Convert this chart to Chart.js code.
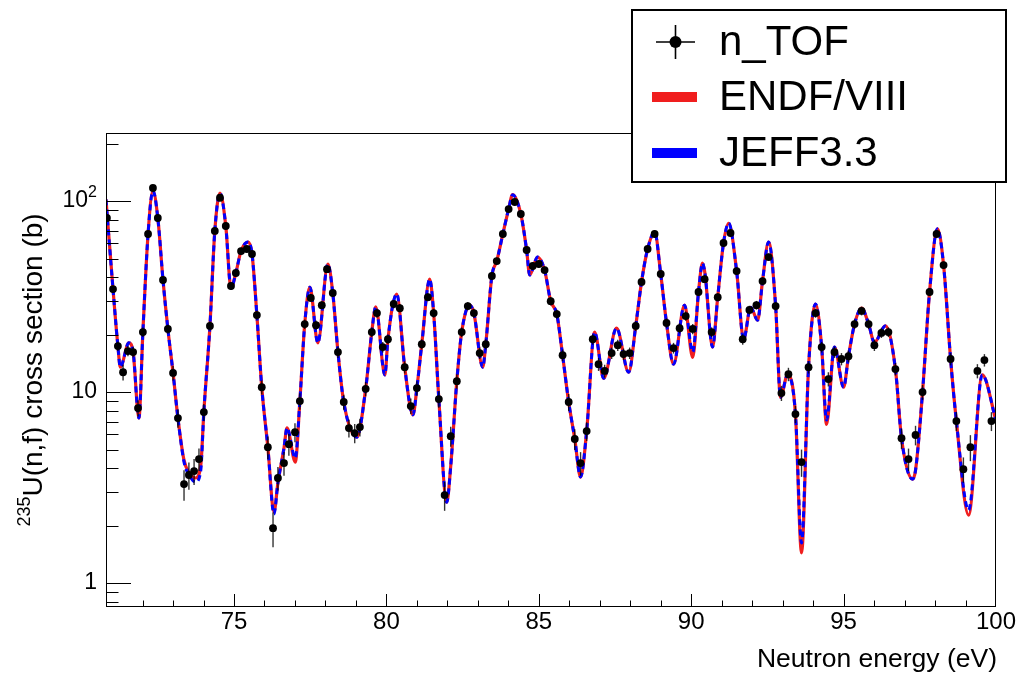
<!DOCTYPE html>
<html><head><meta charset="utf-8">
<script src="https://cdn.jsdelivr.net/npm/chart.js@4.4.0/dist/chart.umd.min.js"></script>
<style>html,body{margin:0;padding:0;background:#fff;overflow:hidden}</style>
</head><body>
<canvas id="c" width="1023" height="676"></canvas>
<script>
// ---- n_TOF measured points ----
const energies = [70.83,71.03,71.19,71.36,71.52,71.69,71.85,72.01,72.18,72.34,72.50,72.67,72.83,73.00,73.16,73.36,73.52,73.69,73.85,74.01,
74.21,74.37,74.54,74.73,74.90,75.06,75.23,75.42,75.59,75.75,75.91,76.11,76.28,76.44,76.64,76.80,77.00,77.16,77.32,77.52,
77.69,77.88,78.05,78.24,78.41,78.60,78.77,78.96,79.13,79.32,79.52,79.69,79.88,80.05,80.24,80.44,80.60,80.80,81.00,81.16,
81.36,81.55,81.72,81.91,82.11,82.31,82.47,82.67,82.87,83.06,83.26,83.46,83.62,83.82,84.01,84.21,84.41,84.60,84.80,85.00,
85.19,85.39,85.59,85.78,85.98,86.18,86.37,86.57,86.77,86.96,87.16,87.39,87.59,87.78,87.98,88.18,88.37,88.57,88.80,89.00,
89.19,89.42,89.62,89.82,90.05,90.24,90.44,90.67,90.87,91.06,91.29,91.49,91.69,91.91,92.14,92.34,92.54,92.77,92.96,93.19,
93.42,93.62,93.85,94.08,94.28,94.50,94.70,94.93,95.16,95.36,95.59,95.82,96.01,96.24,96.47,96.70,96.90,97.13,97.36,97.59,
97.82,98.05,98.28,98.51,98.70,98.93,99.16,99.39,99.62,99.85];
const xsMeasured = [81.5,34.6,17.4,12.7,16.4,16.2,8.25,20.6,67.2,117,81.5,38.6,21.4,12.6,7.31,3.30,3.68,3.86,4.46,7.86,
22.2,69.7,104,74.0,35.9,42.0,54.7,56.1,52.8,25.3,10.6,5.15,1.94,3.55,4.25,5.34,6.17,8.97,22.7,31.1,
22.4,28.5,44.0,33.0,16.2,8.87,6.48,6.10,6.56,10.4,20.6,25.9,17.2,18.9,28.9,27.5,13.5,8.45,10.5,17.8,
31.4,25.9,9.19,2.89,5.88,11.4,20.6,28.2,25.9,16.0,17.8,40.5,48.5,67.2,90.8,98.8,85.5,55.4,45.7,46.8,
43.5,29.9,25.6,15.6,8.87,5.68,4.25,6.25,18.9,14.0,12.9,16.0,17.6,15.8,16.0,22.2,37.7,56.1,67.2,41.5,
23.0,17.0,21.6,25.0,21.4,33.4,39.0,20.6,31.4,60.3,68.0,43.0,18.9,26.9,28.5,38.1,50.9,28.2,9.88,12.4,
7.67,4.30,13.5,25.9,17.2,11.7,16.2,14.9,15.4,22.7,26.6,22.7,17.6,20.4,20.6,13.2,5.74,4.46,5.96,10.0,
33.4,67.2,46.2,14.9,7.05,3.95,5.15,12.9,14.7,7.05];
const xsError = [3,1.5,1,1.2,1,1,0.8,1.2,3,4,3,1.8,1.2,1.1,0.8,0.6,0.6,0.6,0.6,0.8,
1.2,3,4,3,1.6,1.8,2.2,2.2,2.2,1.4,0.9,0.7,0.4,0.5,0.6,0.7,0.7,0.9,1.3,1.5,
1.3,1.4,1.9,1.5,1.1,0.8,0.7,0.7,0.7,0.9,1.2,1.4,1.1,1.1,1.4,1.4,1.0,0.8,0.9,1.1,
1.5,1.4,0.9,0.5,0.7,1.0,1.2,1.4,1.4,1.1,1.1,1.8,2.0,2.6,3.3,3.6,3.2,2.3,2.0,2.0,
1.9,1.5,1.4,1.1,0.9,0.7,0.6,0.7,1.2,1.1,1.0,1.1,1.2,1.1,1.1,1.3,1.8,2.4,2.7,1.9,
1.3,1.1,1.3,1.4,1.3,1.6,1.8,1.2,1.5,2.5,2.7,1.9,1.2,1.4,1.5,1.8,2.2,1.5,0.9,1.0,
0.8,0.7,1.0,1.4,1.1,1.0,1.1,1.1,1.1,1.3,1.4,1.3,1.2,1.2,1.2,1.0,0.7,0.6,0.7,0.9,
1.6,2.7,2.0,1.1,0.8,0.6,0.8,1.1,1.1,0.8];

// ---- evaluated curves ----
const curveEnergies = [70.80,70.83,71.03,71.19,71.27,71.55,71.69,71.88,72.01,72.18,72.34,72.50,72.67,72.83,73.00,73.16,73.36,73.52,73.74,73.91,
74.01,74.21,74.37,74.54,74.73,74.90,75.06,75.23,75.46,75.59,75.75,75.91,76.11,76.31,76.44,76.64,76.74,77.01,77.16,77.32,
77.49,77.75,78.08,78.24,78.41,78.60,79.03,79.32,79.52,79.65,79.95,80.05,80.34,80.60,80.87,81.00,81.16,81.42,81.55,81.72,
81.98,82.11,82.31,82.47,82.73,82.87,83.16,83.26,83.46,83.62,83.82,84.01,84.14,84.41,84.60,84.70,84.96,85.19,85.39,85.59,
85.78,85.98,86.18,86.37,86.57,86.83,87.13,87.55,87.95,88.18,88.37,88.57,88.80,89.00,89.19,89.42,89.78,90.05,90.24,90.37,
90.45,90.70,90.87,91.06,91.23,91.49,91.72,91.95,92.18,92.34,92.54,92.77,92.93,93.16,93.42,93.62,93.85,94.08,94.28,94.44,
94.70,95.00,95.16,95.36,95.59,95.82,96.01,96.37,96.70,96.90,97.26,97.36,97.59,97.82,98.08,98.28,98.51,98.70,99.10,99.55,
100.0];
const endfValues = [102,88,34.6,17.4,13.5,18.1,16.2,7.31,20.6,67.2,113,81.5,38.6,21.4,12.6,7.31,4.4,3.8,3.55,4.15,
7.86,22.2,69.7,110,74,35,42,54.7,61,53,25.3,10.6,5.15,2.35,3.34,5.1,6.49,4.30,8.97,22.7,
35.4,18.1,46.8,33.0,16.2,8.87,5.81,10.4,20.6,27.9,12.3,18.9,32.6,13.5,7.6,10.5,17.8,39.0,25.9,9.19,
2.65,4.1,11.4,20.6,28.5,25.9,13.5,17.8,40.5,48.5,67.2,90.8,108,85.5,55.4,41,50.9,43.5,29.9,25.6,
15.6,8.87,5.68,3.59,6.25,20.6,11.8,21.6,12.7,22.2,37.7,56.1,68.8,41.5,23.0,14.0,28.5,15.2,33.4,47.3,
42,17.2,31.4,60.3,76.5,43,18.9,27.8,23.8,38.1,61,28.2,9.4,12.3,7.67,1.44,13.5,28.9,17.2,6.78,
17.2,10.6,15.4,22.7,27.5,22.7,18.2,22.2,13.2,5.74,3.5,3.9,10.0,33.4,71.5,46.2,14.9,7.05,2.27,12.3,
7.1];
const jeffValues = [102,88,34.6,17.4,13.5,18.1,16.2,7.31,20.6,67.2,113,81.5,38.6,21.4,12.6,7.31,4.3,3.7,3.38,3.9,
7.86,22.2,69.7,110,74,35,42,54.7,61,53,25.3,10.6,5.15,2.30,3.34,5.1,6.49,4.51,8.97,22.7,
35.4,18.1,46.8,33.0,16.2,8.87,5.81,10.4,20.6,27.9,12.3,18.9,32.6,13.5,7.6,10.5,17.8,39.0,25.9,9.19,
2.65,4.1,11.4,20.6,28.5,25.9,13.5,17.8,40.5,48.5,67.2,90.8,108,85.5,55.4,41,50.9,43.5,29.9,25.6,
15.6,8.87,5.68,3.59,6.25,20.6,11.8,21.6,12.7,22.2,37.7,56.1,68.8,41.5,23.0,14.0,28.5,16.2,33.4,47.3,
42,17.2,31.4,60.3,76.5,43,18.9,27.8,23.8,38.1,61,28.2,9.4,12.3,7.67,1.62,13.5,28.9,17.2,7.14,
17.2,10.6,15.4,22.7,27.5,22.7,18.2,22.2,13.2,5.74,3.5,3.9,10.0,33.4,71.5,46.2,14.9,7.05,2.41,12.3,
7.1];

// ---- axes / labels ----
const xTickValues = [75,80,85,90,95,100];
const xTickLabels = ['75','80','85','90','95','100'];
const yTickValues = [1,10,100];
const yTickLabels = ['1','10','10'];
const yTickExponents = ['','','2'];
const xTitle = 'Neutron energy (eV)';
const yTitleSup = '235';
const yTitle = 'U(n,f) cross section (b)';
const legendLabels = ['n_TOF','ENDF/VIII','JEFF3.3'];

const RED = '#f01e1e', BLUE = '#0000ff';
const FONT = '"Liberation Sans", Arial, Helvetica, sans-serif';

const rootStyle = {
  id: 'rootStyle',
  beforeDatasetDraw(chart, args) {
    const ds = chart.data.datasets[args.index];
    if (ds.label !== 'n_TOF') return;
    const ctx = chart.ctx, xs = chart.scales.x, ys = chart.scales.y, a = chart.chartArea;
    ctx.save();
    ctx.beginPath(); ctx.rect(a.left, a.top, a.right - a.left, a.bottom - a.top); ctx.clip();
    ctx.strokeStyle = 'rgba(0,0,0,0.8)'; ctx.lineWidth = 1.4;
    for (let i = 0; i < energies.length; i++) {
      const px = xs.getPixelForValue(energies[i]);
      const y1 = ys.getPixelForValue(xsMeasured[i] + xsError[i]);
      const y2 = ys.getPixelForValue(Math.max(xsMeasured[i] - xsError[i], 0.01));
      ctx.beginPath(); ctx.moveTo(px, y1); ctx.lineTo(px, y2); ctx.stroke();
    }
    ctx.restore();
  },
  afterDraw(chart) {
    const ctx = chart.ctx, xs = chart.scales.x, ys = chart.scales.y, a = chart.chartArea;
    ctx.save();
    // frame
    ctx.strokeStyle = '#000'; ctx.lineWidth = 1;
    ctx.strokeRect(a.left + 0.5, a.top + 0.5, a.right - a.left - 1, a.bottom - a.top - 1);
    // x ticks
    ctx.beginPath();
    for (let v = 72; v <= 99; v++) {
      const px = Math.round(xs.getPixelForValue(v)) + 0.5;
      const len = (v % 5 === 0) ? 13 : 6.5;
      ctx.moveTo(px, a.bottom); ctx.lineTo(px, a.bottom - len);
    }
    // y ticks
    for (let k = -1; k <= 2; k++) {
      for (let m = 1; m <= 9; m++) {
        const v = m * Math.pow(10, k);
        if (v < ys.min || v > ys.max) continue;
        const py = Math.round(ys.getPixelForValue(v)) + 0.5;
        const len = (m === 1) ? 25 : 12.5;
        ctx.moveTo(a.left, py); ctx.lineTo(a.left + len, py);
      }
    }
    ctx.stroke();
    // x tick labels
    ctx.fillStyle = '#000';
    ctx.font = '24px ' + FONT;
    ctx.textAlign = 'center'; ctx.textBaseline = 'middle';
    xTickValues.forEach((v, i) => ctx.fillText(xTickLabels[i], xs.getPixelForValue(v), 622));
    // y tick labels
    yTickValues.forEach((v, i) => {
      const py = ys.getPixelForValue(v);
      const right = 97;
      let supW = 0;
      if (yTickExponents[i]) {
        ctx.font = '16px ' + FONT;
        supW = ctx.measureText(yTickExponents[i]).width;
        ctx.textAlign = 'right';
        ctx.fillText(yTickExponents[i], right, py - 8);
      }
      ctx.font = '23px ' + FONT;
      ctx.textAlign = 'right';
      ctx.fillText(yTickLabels[i], right - supW, py);
    });
    // x title
    ctx.font = '26.5px ' + FONT;
    ctx.textAlign = 'right'; ctx.textBaseline = 'middle';
    ctx.fillText(xTitle, a.right + 1, 660);
    // y title (rotated, centred on the axis)
    ctx.save();
    ctx.translate(34, (a.top + a.bottom) / 2);
    ctx.rotate(-Math.PI / 2);
    ctx.font = '28px ' + FONT;
    const wMain = ctx.measureText(yTitle).width;
    ctx.font = '18px ' + FONT;
    const wSup = ctx.measureText(yTitleSup).width;
    const start = -(wMain + wSup) / 2;
    ctx.textAlign = 'left'; ctx.textBaseline = 'middle';
    ctx.fillText(yTitleSup, start, -9);
    ctx.font = '28px ' + FONT;
    ctx.fillText(yTitle, start + wSup, 0);
    ctx.restore();
    // legend
    const lx = 631, ly = 9, lw = 376, lh = 174;
    ctx.fillStyle = '#fff'; ctx.fillRect(lx, ly, lw, lh);
    ctx.strokeStyle = '#000'; ctx.lineWidth = 2;
    ctx.strokeRect(lx + 1, ly + 1, lw - 2, lh - 2);
    const rows = [42, 97, 153];
    // n_TOF marker
    ctx.strokeStyle = '#000'; ctx.lineWidth = 1.6;
    ctx.beginPath();
    ctx.moveTo(656, rows[0]); ctx.lineTo(695, rows[0]);
    ctx.moveTo(675.5, rows[0] - 17); ctx.lineTo(675.5, rows[0] + 17);
    ctx.stroke();
    ctx.fillStyle = '#000';
    ctx.beginPath(); ctx.arc(675.5, rows[0], 6, 0, Math.PI * 2); ctx.fill();
    ctx.fillStyle = RED; ctx.fillRect(652, rows[1] - 5, 45, 10);
    ctx.fillStyle = BLUE; ctx.fillRect(652, rows[2] - 5, 45, 10);
    ctx.fillStyle = '#000';
    ctx.font = '42px ' + FONT;
    ctx.textAlign = 'left'; ctx.textBaseline = 'middle';
    legendLabels.forEach((t, i) => ctx.fillText(t, 719, rows[i] + 1));
    ctx.restore();
  }
};

const chart = new Chart(document.getElementById('c'), {
  type: 'line',
  data: {
    datasets: [
      { label: 'n_TOF', data: energies.map((e, i) => ({ x: e, y: xsMeasured[i] })),
        showLine: false, pointRadius: 3.9, pointBackgroundColor: '#000', pointBorderWidth: 0, order: 0 },
      { label: 'JEFF3.3', data: curveEnergies.map((e, i) => ({ x: e, y: jeffValues[i] })),
        borderColor: BLUE, borderWidth: 3, borderDash: [6, 4], pointRadius: 0,
        cubicInterpolationMode: 'monotone', fill: false, order: 1 },
      { label: 'ENDF/VIII', data: curveEnergies.map((e, i) => ({ x: e, y: endfValues[i] })),
        borderColor: RED, borderWidth: 3.2, pointRadius: 0,
        cubicInterpolationMode: 'monotone', fill: false, order: 2 }
    ]
  },
  options: {
    responsive: false, animation: false, devicePixelRatio: 1,
    layout: { padding: { left: 0, top: 133, right: 27, bottom: 0 } },
    plugins: { legend: { display: false }, tooltip: { enabled: false } },
    scales: {
      x: { type: 'linear', min: 70.8, max: 100,
           grid: { display: false }, border: { display: false }, ticks: { display: false },
           afterFit: s => { s.height = 69; } },
      y: { type: 'logarithmic', min: 0.75, max: 227,
           grid: { display: false }, border: { display: false }, ticks: { display: false },
           afterFit: s => { s.width = 106; } }
    }
  },
  plugins: [rootStyle]
});
</script>
</body></html>
